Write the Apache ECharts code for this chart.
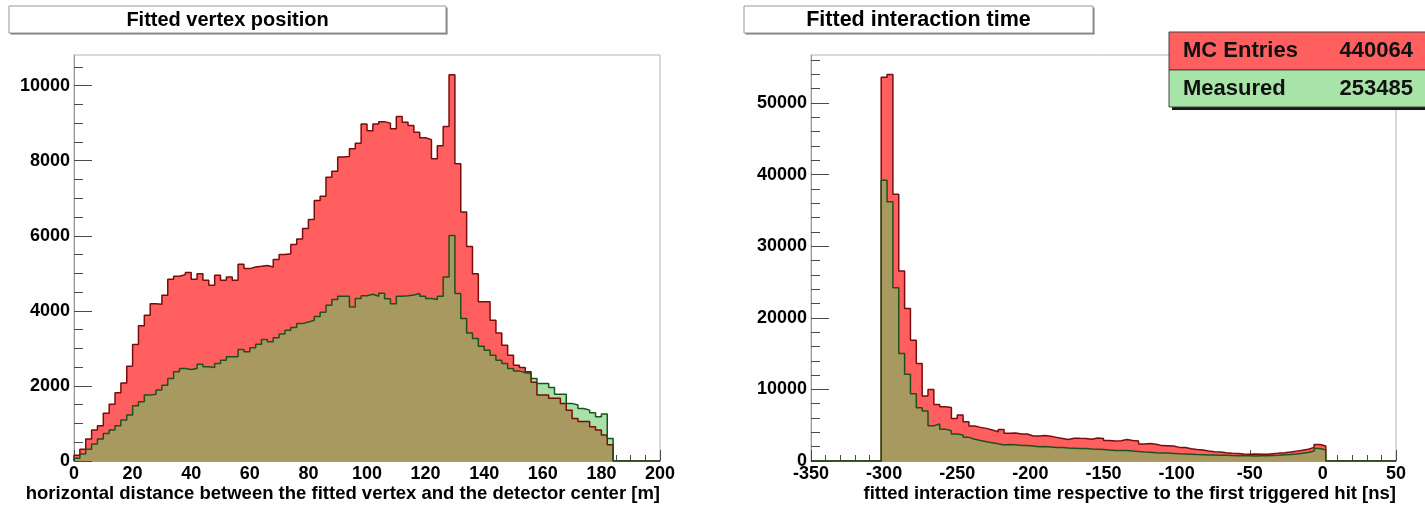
<!DOCTYPE html>
<html>
<head>
<meta charset="utf-8">
<script src="https://cdn.jsdelivr.net/npm/echarts@6/dist/echarts.min.js"></script>
<style>
  html, body { margin: 0; padding: 0; background: #fff; }
  #main { width: 1425px; height: 505px; }
</style>
</head>
<body>
<div id="main"></div>
<script>
// vertex distance histogram: 100 bins of 2 m, 0..200
var vertexStart = 0, vertexWidth = 2;
var vertexMC = [
  150, 310, 585, 825, 940, 1270, 1515, 1820, 2080, 2525,
  3100, 3600, 3880, 4190, 4175, 4415, 4840, 4920, 4965, 5020,
  4840, 4990, 4815, 4680, 4945, 4815, 4900, 4815, 5240, 5125,
  5170, 5185, 5210, 5170, 5370, 5500, 5520, 5770, 5915, 6190,
  6430, 6940, 7050, 7560, 7720, 8095, 8110, 8315, 8465, 8980,
  8800, 8980, 9040, 9000, 8850, 9175, 9025, 8935, 8760, 8610,
  8560, 8050, 8400, 8910, 10290, 7915, 6630, 5715, 4990, 4240,
  4240, 3750, 3410, 3085, 2820, 2550, 2490, 2375, 2100, 1760,
  1760, 1670, 1670, 1530, 1350, 1135, 1050, 1050, 915, 825,
  690, 430, 0, 0, 0, 0, 0, 0, 0, 0
];
var vertexMeasured = [
  70, 185, 310, 450, 585, 735, 825, 940, 1090, 1225,
  1470, 1580, 1755, 1780, 1890, 2020, 2200, 2375, 2465, 2440,
  2465, 2580, 2510, 2490, 2600, 2685, 2775, 2775, 2970, 2910,
  3015, 3110, 3235, 3175, 3280, 3380, 3485, 3555, 3660, 3700,
  3750, 3850, 3960, 4150, 4300, 4390, 4390, 4100, 4330, 4400,
  4440, 4390, 4470, 4320, 4190, 4390, 4400, 4420, 4460, 4390,
  4330, 4300, 4390, 4900, 6010, 4460, 3795, 3410, 3260, 3060,
  2950, 2820, 2685, 2600, 2465, 2400, 2350, 2330, 2200, 2065,
  2065, 1960, 1780, 1780, 1535, 1490, 1400, 1355, 1285, 1180,
  1250, 600, 0, 0, 0, 0, 0, 0, 0, 0
];

// interaction time histogram: 100 bins of 4 ns, -350..50
var timeStart = -350, timeWidth = 4;
var timeMC = [
  0, 0, 0, 0, 0, 0, 0, 0, 0, 0, 0, 0,
  53600, 53975, 37240, 26550, 21290, 16875, 13620, 9065, 9995, 7900,
  7580, 7485, 5950, 6415, 5485, 4880, 4695, 4555, 4325, 4090,
  4415, 3860,
  3900, 3780, 3760, 3500, 3480, 3560, 3450, 3300, 3150, 3000,
  3180, 3160, 3150, 3050, 3200, 3150, 2850, 2800, 2830, 3000,
  2850, 2800, 2380, 2450, 2350, 2150, 2130, 2100, 1900, 1880,
  1700, 1600, 1520, 1400, 1300, 1250, 1150, 1080, 1050, 980,
  960, 980, 950, 940, 1020, 1100, 1150, 1250, 1380, 1500,
  1650, 1900, 2300, 2100,
  0, 0, 0, 0, 0, 0, 0, 0, 0, 0, 0, 0
];
var timeMeasured = [
  0, 0, 0, 0, 0, 0, 0, 0, 0, 0, 0, 0,
  39200, 36200, 24200, 15000, 12100, 9400, 7450, 7000, 4930, 5160,
  4450, 4230, 3770, 3620, 3300, 3030, 2850, 2700, 2560, 2400,
  2250,
  2300, 2260, 2180, 2150, 2080, 2000, 2010, 1950, 1890, 1870,
  1800, 1790, 1730, 1760, 1680, 1650, 1620, 1520, 1480, 1450,
  1460, 1380, 1330, 1260, 1230, 1160, 1120, 1100, 1060, 1010,
  990, 950, 910, 890, 850, 830, 800, 790, 760, 750,
  730, 720, 710, 730, 740, 770, 800, 860, 900, 980,
  1080, 1200, 1400, 1750, 1550,
  0, 0, 0, 0, 0, 0, 0, 0, 0, 0, 0, 0
];

var vertexYMajor = [0, 2000, 4000, 6000, 8000, 10000];
var timeYMajor = [0, 10000, 20000, 30000, 40000, 50000];
var entries = [['MC Entries', '440064'], ['Measured', '253485']];

var FONT = '"Liberation Sans", Arial, sans-serif';

// histogram bins -> step outline points
function stepData(values, start, width) {
  var pts = [[start, 0]];
  for (var i = 0; i < values.length; i++) {
    pts.push([start + i * width, values[i]]);
  }
  pts.push([start + values.length * width, 0]);
  return pts;
}

function minorValues(major, step, max) {
  var out = [];
  for (var v = step; v < max; v += step) {
    if (major.indexOf(v) < 0) out.push(v);
  }
  return out;
}

var tickColor = '#4a4a4a';
var labelStyle = { fontFamily: FONT, fontWeight: 'bold', fontSize: 18, color: '#000' };

function xAxisDef(grid, min, max, interval, minorSplit) {
  return {
    gridIndex: grid, type: 'value', min: min, max: max, interval: interval,
    axisLine: { show: true, onZero: false, lineStyle: { color: '#9a9a9a', width: 1 } },
    axisTick: { inside: true, length: 11, lineStyle: { color: tickColor } },
    minorTick: { show: true, splitNumber: minorSplit, length: 6, lineStyle: { color: tickColor } },
    axisLabel: Object.assign({ margin: 4, formatter: function(v) { return String(v); } }, labelStyle),
    splitLine: { show: false }
  };
}

// major ticks with labels + a bare axis carrying the minor ticks
function yAxisDefs(grid, max, major, minorStep) {
  var minor = minorValues(major, minorStep, max);
  return [{
    gridIndex: grid, type: 'value', min: 0, max: max, position: 'left',
    axisLine: { show: true, onZero: false, lineStyle: { color: '#9a9a9a', width: 1 } },
    axisTick: { inside: true, length: 18, customValues: major, lineStyle: { color: tickColor } },
    axisLabel: Object.assign({ margin: 4, customValues: major, formatter: function(v) { return String(v); } }, labelStyle),
    splitLine: { show: false }
  }, {
    gridIndex: grid, type: 'value', min: 0, max: max, position: 'left',
    axisLine: { show: false, onZero: false },
    axisTick: { inside: true, length: 9, customValues: minor, lineStyle: { color: tickColor } },
    axisLabel: { show: false },
    splitLine: { show: false }
  }];
}

function histSeries(data, xi, yi, line, fill, opacity) {
  return {
    type: 'line', xAxisIndex: xi, yAxisIndex: yi, step: 'end', symbol: 'none',
    data: data, animation: false,
    lineStyle: { color: line, width: 1.5 },
    areaStyle: { color: fill, opacity: opacity }
  };
}

function titleBox(x, y, w, h, text, size) {
  return [
    { type: 'rect', z: 100, shape: { x: x + 1.5, y: y + 1.5, width: w, height: h }, style: { fill: '#777' } },
    { type: 'rect', z: 101, shape: { x: x, y: y, width: w, height: h }, style: { fill: '#fff', stroke: '#999', lineWidth: 1 } },
    { type: 'text', z: 102, style: { text: text, x: x + w / 2, y: y + h / 2 + 1, textAlign: 'center', textVerticalAlign: 'middle',
      font: 'bold ' + size + 'px ' + FONT, fill: '#000' } }
  ];
}

var graphics = [];
graphics = graphics.concat(titleBox(9, 6, 437, 27, 'Fitted vertex position', 20));
graphics = graphics.concat(titleBox(744, 6, 349, 27, 'Fitted interaction time', 21.5));

// stats box, top right
graphics.push({ type: 'rect', z: 100, shape: { x: 1172, y: 35, width: 260, height: 75 }, style: { fill: '#151515' } });
graphics.push({ type: 'rect', z: 101, shape: { x: 1169, y: 32, width: 262, height: 38 }, style: { fill: '#ff5f5f', stroke: '#444', lineWidth: 1 } });
graphics.push({ type: 'rect', z: 101, shape: { x: 1169, y: 70, width: 262, height: 37 }, style: { fill: '#a8e4a8', stroke: '#444', lineWidth: 1 } });
entries.forEach(function(e, i) {
  var cy = i === 0 ? 51 : 89;
  graphics.push({ type: 'text', z: 102, style: { text: e[0], x: 1183, y: cy, textAlign: 'left', textVerticalAlign: 'middle',
    font: 'bold 22px ' + FONT, fill: '#111' } });
  graphics.push({ type: 'text', z: 102, style: { text: e[1], x: 1413, y: cy, textAlign: 'right', textVerticalAlign: 'middle',
    font: 'bold 22px ' + FONT, fill: '#111' } });
});

// axis titles, right-aligned to the axis end
graphics.push({ type: 'text', z: 102, style: { text: 'horizontal distance between the fitted vertex and the detector center [m]',
  x: 660, y: 494, textAlign: 'right', textVerticalAlign: 'middle', font: 'bold 18.5px ' + FONT, fill: '#000' } });
graphics.push({ type: 'text', z: 102, style: { text: 'fitted interaction time respective to the first triggered hit [ns]',
  x: 1396, y: 494, textAlign: 'right', textVerticalAlign: 'middle', font: 'bold 18.5px ' + FONT, fill: '#000' } });

var yLeft = yAxisDefs(0, 10815, vertexYMajor, 500);
var yRight = yAxisDefs(1, 56700, timeYMajor, 2000);

var option = {
  animation: false,
  backgroundColor: '#fff',
  grid: [
    { left: 74, top: 55, width: 586, height: 406, show: true, borderColor: '#b4b4b4', borderWidth: 1 },
    { left: 811, top: 55, width: 585, height: 406, show: true, borderColor: '#b4b4b4', borderWidth: 1 }
  ],
  xAxis: [
    xAxisDef(0, 0, 200, 20, 4),
    xAxisDef(1, -350, 50, 50, 5)
  ],
  yAxis: [yLeft[0], yLeft[1], yRight[0], yRight[1]],
  series: [
    histSeries(stepData(vertexMC, vertexStart, vertexWidth), 0, 0, '#7a0c0c', '#ff5f5f', 1),
    histSeries(stepData(vertexMeasured, vertexStart, vertexWidth), 0, 0, '#1c531c', '#5fc85f', 0.55),
    histSeries(stepData(timeMC, timeStart, timeWidth), 1, 2, '#7a0c0c', '#ff5f5f', 1),
    histSeries(stepData(timeMeasured, timeStart, timeWidth), 1, 2, '#1c531c', '#5fc85f', 0.55)
  ],
  graphic: graphics
};

var chart = echarts.init(document.getElementById('main'));
chart.setOption(option);
</script>
</body>
</html>
